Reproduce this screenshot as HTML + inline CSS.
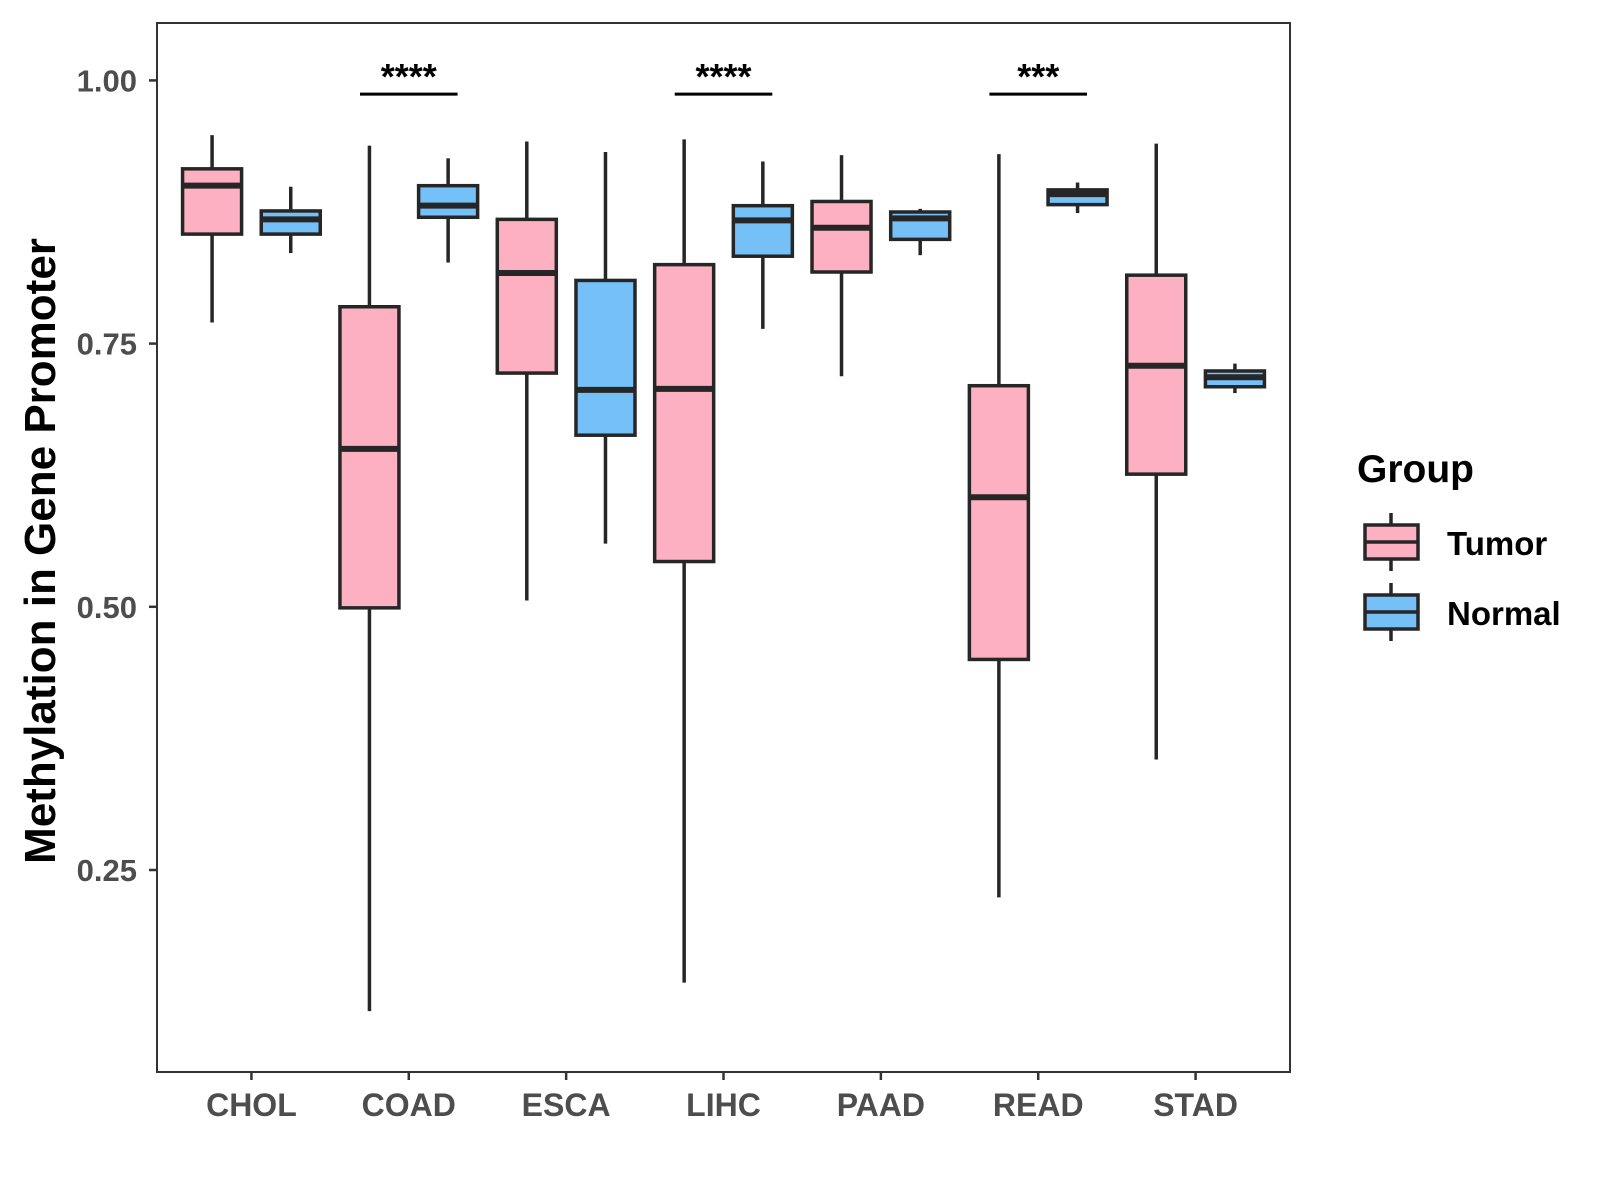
<!DOCTYPE html>
<html><head><meta charset="utf-8"><style>
html,body{margin:0;padding:0;background:#fff;}
svg{display:block;font-family:"Liberation Sans",Arial,sans-serif;}
</style></head><body>
<svg id="chart" width="1600" height="1200" viewBox="0 0 1600 1200" xmlns="http://www.w3.org/2000/svg">
<rect width="1600" height="1200" fill="#fff"/>
<g id="plot"></g>
<text transform="translate(55,551) rotate(-90)" text-anchor="middle" font-size="44" font-weight="bold" fill="#000">Methylation in Gene Promoter</text>
<g transform="translate(-6,-2)">
<text x="1363" y="484" font-size="39" font-weight="bold" fill="#000">Group</text>
<g>
<line x1="1397" y1="515" x2="1397" y2="573" stroke="#262626" stroke-width="3.5"/>
<rect x="1371" y="527" width="53" height="34" fill="#FCB0C2" stroke="#262626" stroke-width="3.5"/>
<line x1="1371" y1="544" x2="1424" y2="544" stroke="#262626" stroke-width="3.5"/>
<text x="1453" y="557" font-size="33" font-weight="bold" fill="#000">Tumor</text>
</g>
<g>
<line x1="1397" y1="585" x2="1397" y2="643" stroke="#262626" stroke-width="3.5"/>
<rect x="1371" y="597" width="53" height="34" fill="#75C1F7" stroke="#262626" stroke-width="3.5"/>
<line x1="1371" y1="614" x2="1424" y2="614" stroke="#262626" stroke-width="3.5"/>
<text x="1453" y="627" font-size="33" font-weight="bold" fill="#000">Normal</text>
</g>
</g>
</svg>
<script>
const categories = ["CHOL","COAD","ESCA","LIHC","PAAD","READ","STAD"];
// [low whisker, Q1, median, Q3, high whisker]
const tumorStats = [
 [0.770,0.854,0.900,0.916,0.948],
 [0.116,0.499,0.650,0.785,0.938],
 [0.506,0.722,0.817,0.868,0.942],
 [0.143,0.543,0.707,0.825,0.944],
 [0.719,0.818,0.860,0.885,0.929],
 [0.224,0.450,0.604,0.710,0.930],
 [0.355,0.626,0.729,0.815,0.940]
];
const normalStats = [
 [0.836,0.854,0.868,0.876,0.899],
 [0.827,0.870,0.881,0.900,0.926],
 [0.560,0.663,0.706,0.810,0.932],
 [0.764,0.833,0.867,0.881,0.923],
 [0.834,0.849,0.869,0.875,0.878],
 [0.874,0.882,0.892,0.896,0.903],
 [0.703,0.709,0.718,0.724,0.731]
];
const yTicks = [0.25,0.50,0.75,1.00];
const yTickLabels = ["0.25","0.50","0.75","1.00"];
const sigCategories = ["COAD","LIHC","READ"];
const sigLabels = ["****","****","***"];
const sigLevel = 0.987;

const NS="http://www.w3.org/2000/svg";
const L=157,R=1290,T=23,B=1072;
const step=(R-L)/7.2;
function xPos(i){return L+(0.6+i)*step;}
function yPos(v){return 80.4+(1-v)*1052.8;}
const g=document.getElementById('plot');
function mk(tag,attrs,parent){const e=document.createElementNS(NS,tag);for(const k in attrs)e.setAttribute(k,attrs[k]);(parent||g).appendChild(e);return e;}

const frame=mk('rect',{x:L,y:T,width:R-L,height:B-T,fill:'none',stroke:'#333',"stroke-width":2});



yTicks.forEach((v,i)=>{
  const y=yPos(v);
  const t=mk('line',{x1:L-8,x2:L,y1:y,y2:y,stroke:'#333',"stroke-width":2.5});
  
  
  const tx=mk('text',{x:L-20,y:y+11,"text-anchor":"end","font-size":31,"font-weight":"bold",fill:"#4d4d4d"});
  tx.textContent=yTickLabels[i];
  
  
});
categories.forEach((c,i)=>{
  const x=xPos(i);
  const t=mk('line',{x1:x,x2:x,y1:B,y2:B+8,stroke:'#333',"stroke-width":2.5});
  
  
  const tx=mk('text',{x:x,y:1116,"text-anchor":"middle","font-size":32,"font-weight":"bold",fill:"#4d4d4d"});
  tx.textContent=c;
  
  
});
function drawBox(cx,s,fill,name){
  const grp=mk('g',{});
  
  
  const w=step*0.375;
  mk('line',{x1:cx,x2:cx,y1:yPos(s[4]),y2:yPos(s[3]),stroke:'#262626',"stroke-width":3.5},grp);
  mk('line',{x1:cx,x2:cx,y1:yPos(s[1]),y2:yPos(s[0]),stroke:'#262626',"stroke-width":3.5},grp);
  mk('rect',{x:cx-w/2,y:yPos(s[3]),width:w,height:yPos(s[1])-yPos(s[3]),fill:fill,stroke:'#262626',"stroke-width":3.5},grp);
  mk('line',{x1:cx-w/2,x2:cx+w/2,y1:yPos(s[2]),y2:yPos(s[2]),stroke:'#262626',"stroke-width":6},grp);
}
categories.forEach((c,i)=>{
  drawBox(xPos(i)-step*0.25,tumorStats[i],'#FCB0C2','box-tumor-'+c.toLowerCase());
  drawBox(xPos(i)+step*0.25,normalStats[i],'#75C1F7','box-normal-'+c.toLowerCase());
});
sigCategories.forEach((c,j)=>{
  const i=categories.indexOf(c);const x=xPos(i);
  const ln=mk('line',{x1:x-step*0.31,x2:x+step*0.31,y1:yPos(sigLevel),y2:yPos(sigLevel),stroke:'#000',"stroke-width":3});
  
  
  const tx=mk('text',{x:x,y:yPos(sigLevel)-5,"text-anchor":"middle","font-size":36,"font-weight":"bold",fill:"#000"});
  tx.textContent=sigLabels[j];
  
  
});
</script>
</body></html>
